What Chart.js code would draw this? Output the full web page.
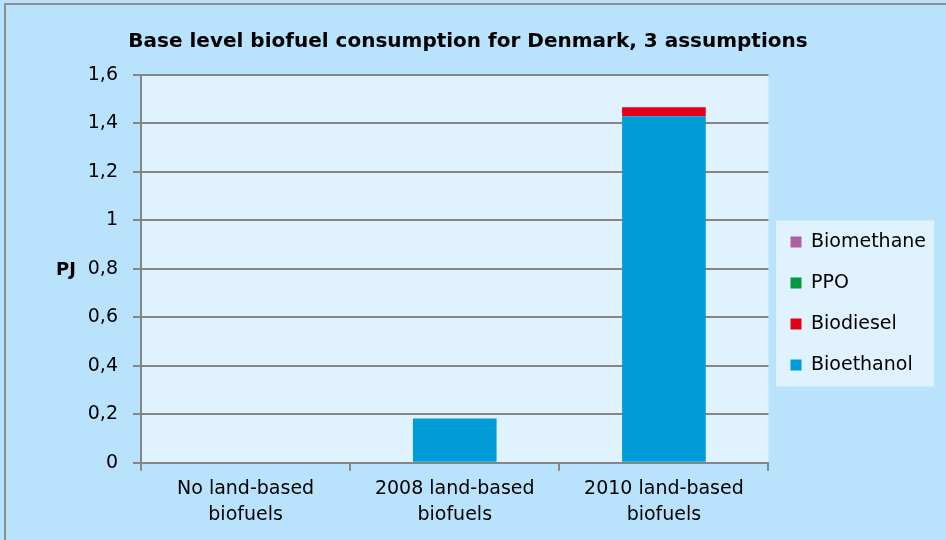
<!DOCTYPE html>
<html>
<head>
<meta charset="utf-8">
<script src="https://cdn.jsdelivr.net/npm/chart.js@4"></script>
<style>
  html, body { margin: 0; padding: 0; background: #b9e3fc; overflow: hidden; }
  #frame { position: absolute; left: 4px; top: 3px; width: 1000px; height: 600px; border: 2px solid #8e8e8e; }
  #wrap { position: absolute; left: 0; top: 0; width: 946px; height: 540px; }
</style>
</head>
<body>
<div id="frame"></div>
<div id="wrap"><canvas id="chart" width="946" height="540"></canvas></div>
<script>
// === DATA ===
const categories = [["No land-based", "biofuels"], ["2008 land-based", "biofuels"], ["2010 land-based", "biofuels"]];
const bioethanol = [0, 0.182, 1.43];
const biodiesel  = [0, 0, 0.037];
const ppo        = [0, 0, 0];
const biomethane = [0, 0, 0];
const yTicksMax = 1.6;

const FONT = "'DejaVu Sans', sans-serif";

// plot background + legend box + horizontal "PJ"
const backdrop = {
  id: "backdrop",
  beforeDraw(chart) {
    const { ctx, chartArea: a } = chart;
    ctx.save();
    ctx.fillStyle = "#dff2fe";
    ctx.fillRect(a.left, a.top, a.right - a.left, a.bottom - a.top);
    const hb = chart.legend ? chart.legend.legendHitBoxes : [];
    if (hb.length) {
      const top = hb[0].top - 12, last = hb[hb.length - 1];
      const bottom = last.top + last.height + 12;
      ctx.fillRect(776, top, 158, bottom - top);
    }
    ctx.restore();
  },
  afterDraw(chart) {
    const { ctx } = chart;
    ctx.save();
    ctx.font = "bold 18px " + FONT;
    ctx.fillStyle = "#000";
    ctx.textAlign = "center";
    ctx.textBaseline = "middle";
    ctx.fillText("PJ", 66, 270);
    ctx.restore();
  }
};

new Chart(document.getElementById("chart"), {
  type: "bar",
  data: {
    labels: categories,
    datasets: [
      { label: "Bioethanol", data: bioethanol, backgroundColor: "#009cd8" },
      { label: "Biodiesel", data: biodiesel, backgroundColor: "#e2001a" },
      { label: "PPO", data: ppo, backgroundColor: "#009a3e" },
      { label: "Biomethane", data: biomethane, backgroundColor: "#b05fa0" }
    ]
  },
  options: {
    responsive: false,
    animation: false,
    layout: { padding: { top: 20, right: 10, bottom: 6, left: 0 } },
    datasets: { bar: { barPercentage: 0.4, categoryPercentage: 1.0, borderWidth: 0 } },
    plugins: {
      title: {
        display: true,
        text: "Base level biofuel consumption for Denmark, 3 assumptions",
        color: "#000",
        font: { family: FONT, size: 20, weight: "bold" },
        padding: { top: 10, bottom: 21 }
      },
      legend: {
        position: "right",
        reverse: true,
        title: { display: true, text: " ", font: { family: FONT, size: 19 }, padding: { top: 15, bottom: 15 } },
        labels: {
          color: "#000",
          font: { family: FONT, size: 19 },
          boxWidth: 11,
          boxHeight: 11,
          padding: 22
        }
      },
      tooltip: { enabled: false }
    },
    scales: {
      x: {
        stacked: true,
        grid: { offset: true, drawOnChartArea: false, color: "#868686", lineWidth: 2, tickLength: 8 },
        border: { color: "#868686", width: 2 },
        ticks: { color: "#000", font: { family: FONT, size: 19, lineHeight: 1.35 }, maxRotation: 0, padding: 6 }
      },
      y: {
        stacked: true,
        min: 0,
        max: yTicksMax,
        afterFit(scale) { scale.width = 141; },
        grid: { color: "#868686", lineWidth: 2, tickLength: 8 },
        border: { color: "#868686", width: 2 },
        ticks: {
          stepSize: 0.2,
          color: "#000",
          font: { family: FONT, size: 19 },
          padding: 15,
          callback: v => String(Math.round(v * 10) / 10).replace(".", ",")
        }
      }
    }
  },
  plugins: [backdrop]
});
</script>
</body>
</html>
